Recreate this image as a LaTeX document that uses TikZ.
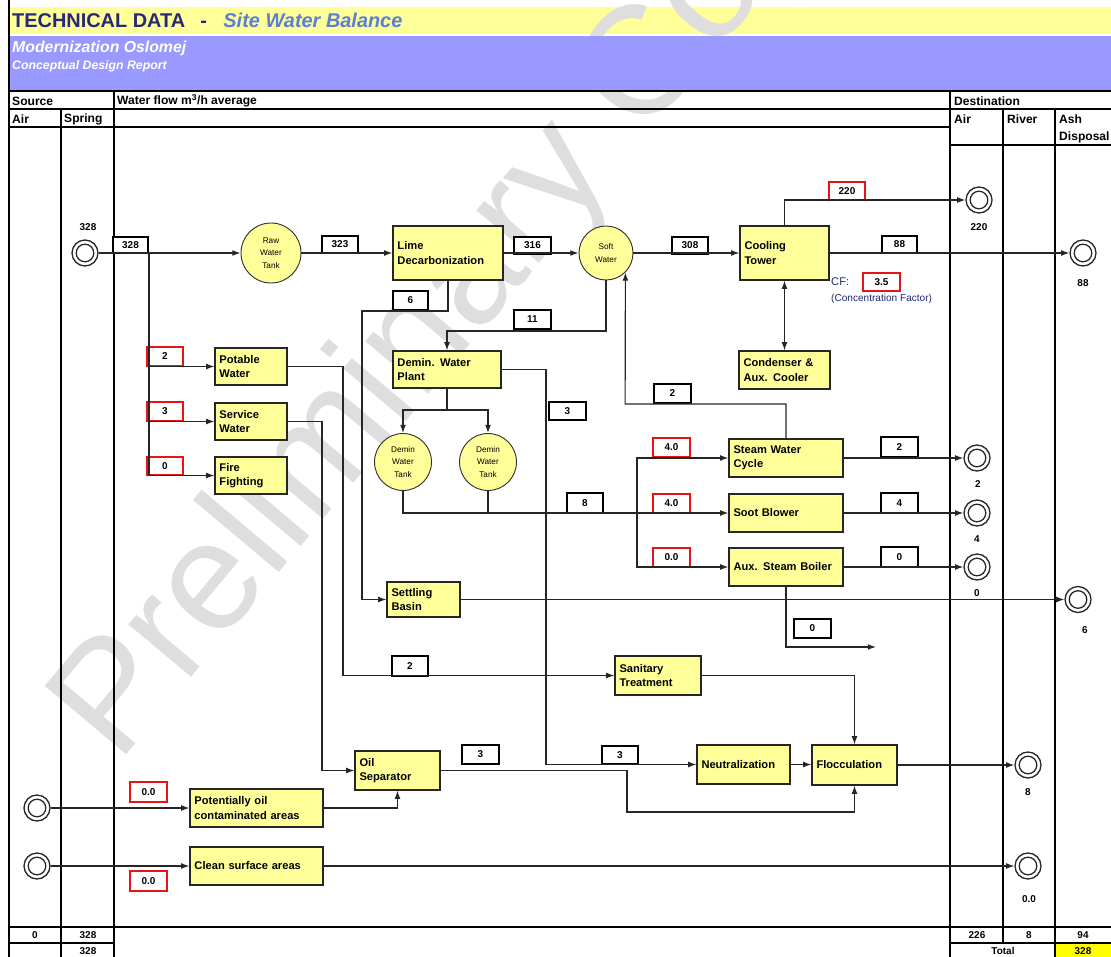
\documentclass[tikz,border=0pt]{standalone}
\usepackage{fontspec}
\setmainfont{Liberation Sans}
\usetikzlibrary{arrows.meta}
\definecolor{boxyel}{RGB}{255,255,153}
\definecolor{hdryel}{RGB}{255,255,153}
\definecolor{hdrpur}{RGB}{153,153,255}
\definecolor{navy}{RGB}{40,40,120}
\definecolor{siteblue}{RGB}{90,127,213}
\definecolor{cfblue}{RGB}{30,40,120}
\definecolor{wmgray}{RGB}{222,222,222}
\definecolor{totyel}{RGB}{255,255,0}
\definecolor{valred}{RGB}{230,20,20}
\newcommand{\procbox}[6]{%
 \pgfmathsetmacro\pbw{(#4-#2)*0.8536}%
 \pgfmathsetmacro\pbh{(#5-#3)*0.8536}%
 \pgfmathsetmacro\ptw{(#4-#2-9)*0.8536}%
 \node[proc, minimum width=\pbw pt, minimum height=\pbh pt, text width=\ptw pt] (#1) at ({(#2+#4)/2},{(#3+#5)/2}) {#6};}
\newcommand{\valbox}[7]{%
 \pgfmathsetmacro\pbw{(#4-#2)*0.8536}%
 \pgfmathsetmacro\pbh{(#5-#3)*0.8536}%
 \node[val, draw=#7, minimum width=\pbw pt, minimum height=\pbh pt] (#1) at ({(#2+#4)/2},{(#3+#5)/2}) {#6};}
\tikzset{
 proc/.style={draw=black!85, fill=boxyel, line width=1pt, inner sep=0pt, align=left, font=\fontsize{9.5}{12}\selectfont\bfseries},
 tank/.style={circle, draw=black!80, fill=boxyel, line width=0.8pt, inner sep=0pt, align=center, font=\fontsize{7}{10.5}\selectfont},
 term/.style={circle, draw=black!85, line width=1.1pt, fill=white, minimum size=26*0.8536pt, inner sep=0pt,
   path picture={\draw[black!85, line width=1.1pt] (path picture bounding box.center) circle[radius=7.5pt];}},
 val/.style={line width=1pt, fill=white, inner sep=0pt, font=\fontsize{8.5}{10}\selectfont\bfseries},
 lbl/.style={font=\fontsize{8.5}{10}\selectfont\bfseries, inner sep=0pt},
 hdr/.style={font=\fontsize{10.3}{11}\selectfont\bfseries, inner sep=0pt, anchor=west},
 flow/.style={line width=1pt, draw=black!85, -{Latex[length=7pt,width=5pt]}},
 plain/.style={line width=1pt, draw=black!85},
 grid/.style={line width=1.5pt, draw=black},
}
\begin{document}
\begin{tikzpicture}[x=0.03cm, y=-0.03cm]
\useasboundingbox (0,0) rectangle (1111,957);
% header band (yellow)
\fill[hdryel] (9,7) rectangle (1111,34);
% watermark
\begin{scope}
\clip (0,0) rectangle (1111,957);
\node[text=wmgray, rotate=50, anchor=base west, inner sep=0pt, font=\fontsize{132}{132}\selectfont] (wm) at (118,765) {Preliminary Copy};
\end{scope}
% header band (purple)
\fill[hdrpur] (9,36) rectangle (1111,90);
% header texts
\node[anchor=west, inner sep=0pt, font=\fontsize{17}{19}\selectfont\bfseries, text=navy] (title) at (12,20) {TECHNICAL DATA\hspace{13pt}-\hspace{14pt}\textcolor{siteblue}{\itshape Site Water Balance}};
\node[anchor=west, inner sep=0pt, font=\fontsize{13.5}{14}\selectfont\bfseries\itshape, text=white] (proj) at (12,48) {Modernization Oslomej};
\node[anchor=west, inner sep=0pt, font=\fontsize{10.5}{11}\selectfont\bfseries\itshape, text=white] (rep) at (12,66) {Conceptual Design Report};
% grid
\draw[line width=2.2pt] (9,0) -- (9,957);
\draw[line width=2pt] (9,91) -- (1111,91);
\draw[grid] (9,109) -- (1111,109);
\draw[grid] (9,127) -- (950,127);
\draw[grid] (950,145) -- (1111,145);
\draw[grid] (61,109) -- (61,957);
\draw[grid] (114,91) -- (114,957);
\draw[grid] (950,91) -- (950,957);
\draw[grid] (1003,109) -- (1003,943);
\draw[grid] (1055,109) -- (1055,957);
\draw[grid] (9,927) -- (1111,927);
\draw[grid] (9,943) -- (114,943);
\draw[grid] (950,943) -- (1111,943);
\fill[totyel] (1056,944) rectangle (1111,957);
\node[hdr] (hsrc) at (12,101) {Source};
\node[hdr] (hflow) at (117,101) {Water flow m\textsuperscript{3}/h average};
\node[hdr] (hair) at (12,119) {Air};
\node[hdr] (hspr) at (64,119) {Spring};
\node[hdr] (hdst) at (954,101) {Destination};
\node[hdr] (hdair) at (954,119) {Air};
\node[hdr] (hriv) at (1007,119) {River};
\node[hdr] (hash) at (1059,119) {Ash};
\node[hdr] (hdis) at (1059,137) {Disposal};
% totals
\node[lbl] (t1) at (35,935) {0};
\node[lbl] (t2) at (88,935) {328};
\node[lbl] (t3) at (88,951) {328};
\node[lbl] (t4) at (977,935) {226};
\node[lbl] (t5) at (1029,935) {8};
\node[lbl] (t6) at (1083,935) {94};
\node[lbl] (t7) at (1003,951) {Total};
\node[lbl] (t8) at (1083,951) {328};
% terminals
\node[term] (spring) at (85,253) {};
\node[lbl] (lspring) at (88,227) {328};
\node[term] (a220) at (979,200) {};
\node[lbl] (l220) at (979,227) {220};
\node[term] (ash88) at (1083,253) {};
\node[lbl] (l88) at (1083,283) {88};
\node[term] (a2) at (977,458) {};
\node[lbl] (l2) at (978,484) {2};
\node[term] (a4) at (977,513) {};
\node[lbl] (l4) at (977,539) {4};
\node[term] (a0) at (977,567) {};
\node[lbl] (l0) at (977,593) {0};
\node[term] (ash6) at (1078,599.5) {};
\node[lbl] (l6) at (1085,630) {6};
\node[term] (r8) at (1028,765) {};
\node[lbl] (l8) at (1028,792) {8};
\node[term] (r00) at (1028,866) {};
\node[lbl] (l00) at (1029,899) {0.0};
\node[term] (airs1) at (37,808) {};
\node[term] (airs2) at (37,866) {};
% tanks
\node[tank, minimum size=60*0.8536pt] (rwt) at (271,253) {Raw\\Water\\Tank};
\node[tank, minimum size=54*0.8536pt] (soft) at (606,253) {Soft\\Water};
\node[tank, minimum size=57*0.8536pt] (dt1) at (403,462) {Demin\\Water\\Tank};
\node[tank, minimum size=57*0.8536pt] (dt2) at (488,462) {Demin\\Water\\Tank};
% process boxes
\procbox{lime}{393}{226}{503}{280}{Lime\\Decarbonization}
\procbox{ct}{740}{226}{829}{280}{Cooling\\Tower}
\procbox{cond}{739}{351}{830}{389}{Condenser \&\\Aux. Cooler}
\procbox{demin}{393}{351}{501}{388}{Demin. Water\\Plant}
\procbox{potable}{215}{348}{287}{385}{Potable\\Water}
\procbox{service}{215}{403}{287}{440}{Service\\Water}
\procbox{fire}{215}{457}{287}{494}{Fire\\Fighting}
\procbox{swc}{729}{439}{843}{477}{Steam Water\\Cycle}
\procbox{soot}{729}{494}{843}{532}{Soot Blower}
\procbox{aux}{729}{548}{843}{586}{Aux. Steam Boiler}
\procbox{settle}{387}{582}{460}{617}{Settling\\Basin}
\procbox{sanitary}{615}{656}{701}{695}{Sanitary\\Treatment}
\procbox{oil}{355}{751}{440}{790}{Oil\\Separator}
\procbox{neut}{697}{745}{790}{784}{Neutralization}
\procbox{floc}{812}{745}{897}{785}{Flocculation}
\procbox{potoil}{190}{789}{323}{827}{Potentially oil\\contaminated areas}
\procbox{clean}{190}{847}{323}{885}{Clean surface areas}
% CF text
\node[anchor=west, inner sep=0pt, font=\fontsize{9.5}{10}\selectfont, text=cfblue] (cf) at (831,282) {CF:};
\node[anchor=west, inner sep=0pt, font=\fontsize{8.6}{9}\selectfont, text=cfblue] (cff) at (831,299) {(Concentration Factor)};
% value boxes
\valbox{v1}{113}{237}{148}{253}{328}{black}
\valbox{v2}{322}{236}{358}{253}{323}{black}
\valbox{v3}{514}{237}{551}{254}{316}{black}
\valbox{v4}{672}{237}{708}{254}{308}{black}
\valbox{v5}{829}{182}{865}{200}{220}{valred}
\valbox{v6}{882}{236}{917}{253}{88}{black}
\valbox{v7}{863}{273}{900}{291}{3.5}{valred}
\valbox{v8}{393}{291}{428}{310}{6}{black}
\valbox{v9}{514}{310}{551}{329}{11}{black}
\valbox{v10}{147}{347}{183}{366}{2}{valred}
\valbox{v11}{147}{402}{183}{421}{3}{valred}
\valbox{v12}{147}{457}{183}{475}{0}{valred}
\valbox{v13}{654}{384}{691}{403}{2}{black}
\valbox{v14}{549}{402}{586}{420}{3}{black}
\valbox{v15}{653}{438}{690}{457}{4.0}{valred}
\valbox{v16}{653}{494}{690}{513}{4.0}{valred}
\valbox{v17}{653}{548}{690}{567}{0.0}{valred}
\valbox{v18}{567}{493}{603}{513}{8}{black}
\valbox{v19}{881}{437}{918}{457}{2}{black}
\valbox{v20}{881}{493}{918}{513}{4}{black}
\valbox{v21}{881}{547}{918}{567}{0}{black}
\valbox{v22}{794}{619}{831}{638}{0}{black}
\valbox{v23}{392}{656}{428}{676}{2}{black}
\valbox{v24}{462}{745}{499}{764}{3}{black}
\valbox{v25}{602}{746}{638}{764}{3}{black}
\valbox{v26}{130}{782}{167}{802}{0.0}{valred}
\valbox{v27}{130}{871}{167}{891}{0.0}{valred}
% connectors
\coordinate (jct) at (149,253);
\coordinate (auxout) at (876,647);
\draw[flow] (spring) -- (rwt);
\draw[flow] (rwt) -- (lime);
\draw[flow] (lime) -- (soft);
\draw[flow] (soft) -- (ct);
\draw[flow] (ct.north) |- (a220);
\draw[flow] (ct) -- (ash88);
\draw[plain, {Latex[length=7pt,width=5pt]}-{Latex[length=7pt,width=5pt]}] (ct.south) -- (cond.north);
\draw[flow] (lime.south) |- (362,311) |- (settle.west);
\draw[flow] (settle) -- (ash6);
\draw[flow] (soft.south) |- (447,331) -- (demin.north);
\draw[flow] (demin.east) -| (546,764.5) -- (neut.west);
\draw[plain] (demin.south) -- (447,410);
\draw[flow] (447,410) -| (dt1.north);
\draw[flow] (447,410) -| (dt2.north);
\draw[flow] (dt1.south) |- (soot.west);
\draw[plain] (dt2.south) -- (488,513);
\draw[flow] (637,513) |- (swc.west);
\draw[flow] (637,513) |- (aux.west);
\draw[flow] (swc) -- (a2);
\draw[flow] (soot) -- (a4);
\draw[flow] (aux) -- (a0);
\draw[flow] (aux.south) |- (auxout);
\draw[flow] (swc.north) |- (625.1,404) -- (soft.south east);
\draw[flow] (jct) |- (potable.west);
\draw[flow] (jct) |- (service.west);
\draw[flow] (jct) |- (fire.west);
\draw[flow] (potable.east) -| (343,675.5) -- (sanitary.west);
\draw[flow] (service.east) -| (322,770.5) -- (oil.west);
\draw[flow] (sanitary.east) -| (floc.north);
\draw[flow] (oil.east) -| (627,812) -| (floc.south);
\draw[flow] (neut.east) -- (neut.east -| floc.west);
\draw[flow] (floc) -- (r8);
\draw[flow] (airs1) -- (potoil);
\draw[flow] (potoil.east) -| (oil.south);
\draw[flow] (airs2) -- (clean);
\draw[flow] (clean) -- (r00);
\end{tikzpicture}
\end{document}
